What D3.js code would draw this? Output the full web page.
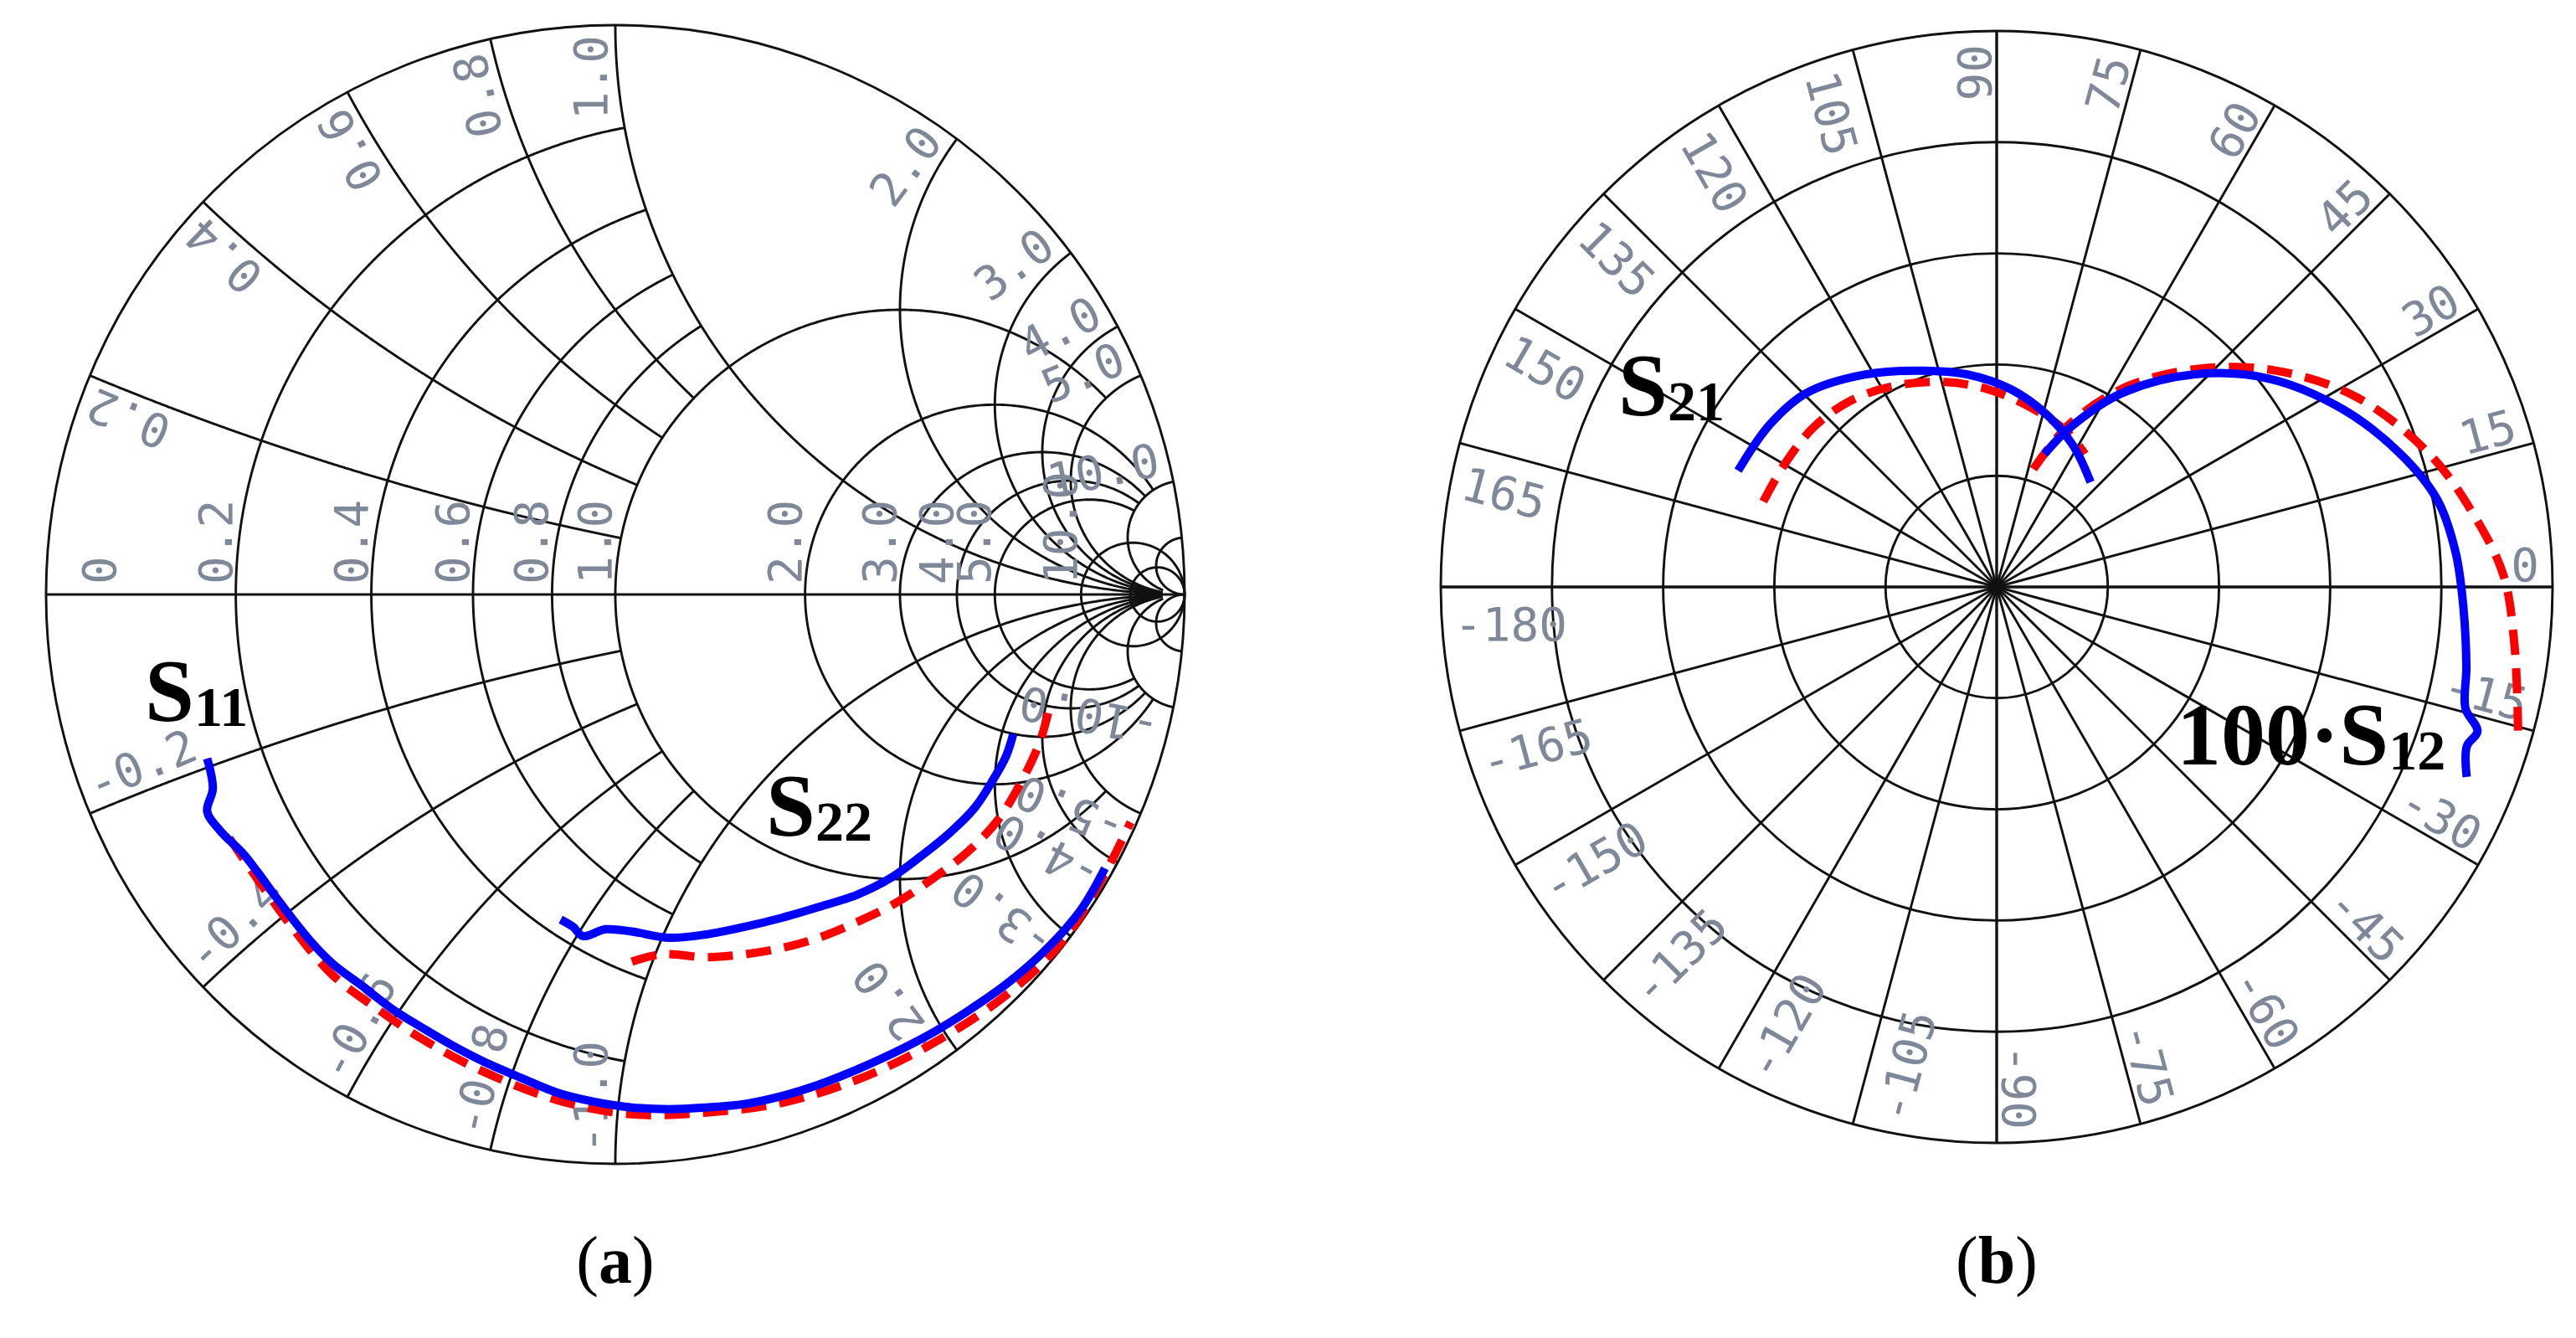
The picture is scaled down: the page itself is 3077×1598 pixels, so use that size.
<!DOCTYPE html>
<html>
<head>
<meta charset="utf-8">
<script src="https://cdn.jsdelivr.net/npm/d3@7"></script>
<style>
  body { margin: 0; background: #fff; }
  svg { display: block; }
  .lab { font-family: "DejaVu Sans Mono", monospace; font-size: 56px; fill: #7f8899; }
  .big { font-family: "Liberation Serif", "Times New Roman", serif; font-weight: bold; fill: #000; }
  .cap { font-family: "Liberation Serif", "Times New Roman", serif; fill: #000; }
</style>
</head>
<body>
<svg id="fig" width="3077" height="1598"></svg>
<script>
// ---- smith chart grid (a) ----
const resValues = [0.2, 0.4, 0.6, 0.8, 1, 2, 3, 4, 5, 10, 20];
const resMaxX = [1, 1, 1, 1, 5, 10, 10, 10, 10, Infinity, Infinity];
const reaValues = [0.2, 0.4, 0.6, 0.8, 1, 2, 3, 4, 5, 10, 20];
const reaMaxR = [1, 1, 1, 1, 50, 50, 50, 50, 50, 50, Infinity];
const resLabelValues = [0, 0.2, 0.4, 0.6, 0.8, 1, 2, 3, 4, 5, 10];
const resLabels = ["0", "0.2", "0.4", "0.6", "0.8", "1.0", "2.0", "3.0", "4.0", "5.0", "10.0"];
const reaLabelValues = [0.2, 0.4, 0.6, 0.8, 1, 2, 3, 4, 5, 10];
const reaLabels = ["0.2", "0.4", "0.6", "0.8", "1.0", "2.0", "3.0", "4.0", "5.0", "10.0"];

// reflection coefficients [re, im]
const s11Solid = [[-0.717,-0.288],[-0.707,-0.341],[-0.717,-0.381],[-0.694,-0.415],[-0.654,-0.455],[-0.628,-0.488],
  [-0.589,-0.541],[-0.536,-0.608],[-0.497,-0.648],[-0.444,-0.688],[-0.392,-0.728],[-0.339,-0.761],[-0.286,-0.792],
  [-0.234,-0.819],[-0.168,-0.848],[-0.102,-0.875],[-0.037,-0.891],[0.029,-0.901],[0.095,-0.904],[0.160,-0.901],
  [0.226,-0.895],[0.292,-0.881],[0.357,-0.861],[0.423,-0.835],[0.489,-0.805],[0.555,-0.771],[0.620,-0.731],
  [0.686,-0.685],[0.752,-0.628],[0.817,-0.555],[0.860,-0.481]];
const s11Dashed = [[-0.678,-0.428],[-0.628,-0.501],[-0.562,-0.592],[-0.497,-0.668],[-0.418,-0.728],[-0.339,-0.781],
  [-0.234,-0.837],[-0.102,-0.888],[0.029,-0.913],[0.160,-0.910],[0.292,-0.893],[0.423,-0.853],[0.555,-0.790],
  [0.686,-0.704],[0.785,-0.610],[0.858,-0.494],[0.905,-0.400]];
const s22Solid = [[-0.096,-0.571],[-0.074,-0.584],[-0.057,-0.600],[-0.017,-0.588],[0.029,-0.592],[0.095,-0.603],
  [0.160,-0.597],[0.226,-0.584],[0.292,-0.568],[0.357,-0.549],[0.423,-0.528],[0.482,-0.499],[0.535,-0.461],
  [0.587,-0.419],[0.631,-0.375],[0.662,-0.328],[0.686,-0.285],[0.699,-0.245]];
const s22Dashed = [[0.029,-0.645],[0.081,-0.632],[0.160,-0.637],[0.226,-0.632],[0.292,-0.621],[0.357,-0.603],
  [0.423,-0.576],[0.489,-0.544],[0.555,-0.501],[0.620,-0.451],[0.673,-0.395],[0.712,-0.331],[0.745,-0.261],[0.762,-0.201]];

// ---- polar chart (b) ----
const ringValues = [0.2, 0.4, 0.6, 0.8, 1.0];
const spokeAngles = d3.range(0, 360, 15);
const angleLabels = [0,15,30,45,60,75,90,105,120,135,150,165,-180,-165,-150,-135,-120,-105,-90,-75,-60,-45,-30,-15];
// [magnitude (fraction of outer ring), angle in degrees]
const s21Solid = [[0.510,155.8],[0.502,144.6],[0.489,134.6],[0.450,121.9],[0.411,108.8],[0.386,97.9],
  [0.356,85.7],[0.321,73.2],[0.288,61.2],[0.253,48.1]];
const s21Dashed = [[0.447,159.9],[0.441,150.4],[0.437,139.1],[0.426,128.3],[0.406,117.1],[0.380,104.1],
  [0.355,92.1],[0.327,78.4],[0.307,65.9],[0.287,56.4]];
const s12Solid = [[0.254,70.2],[0.315,65.3],[0.414,57.2],[0.523,47.0],[0.616,37.5],[0.699,27.3],[0.765,18.2],
  [0.808,11.2],[0.828,4.3],[0.840,-2.3],[0.857,-9.6],[0.871,-14.5],[0.903,-16.7],[0.893,-18.7],[0.912,-22.0]];
const s12Dashed = [[0.222,72.7],[0.322,65.8],[0.433,56.7],[0.540,46.7],[0.635,37.8],[0.732,27.8],[0.815,17.0],
  [0.868,8.6],[0.912,1.3],[0.937,-6.3],[0.973,-15.4]];

const svg = d3.select("#fig");
const gridStroke = "#111", gridW = 2.9;

// ================= Smith chart =================
const sc = {cx: 735, cy: 710, R: 680};
const sx = d3.scaleLinear().domain([-1, 1]).range([sc.cx - sc.R, sc.cx + sc.R]);
const sy = d3.scaleLinear().domain([-1, 1]).range([sc.cy + sc.R, sc.cy - sc.R]);
const gamma = (r, x) => { const d = (r + 1) * (r + 1) + x * x; return [(r * r + x * x - 1) / d, 2 * x / d]; };
const sline = d3.line().x(d => sx(d[0])).y(d => sy(d[1]));

const gS = svg.append("g");
const N = 700;
resValues.forEach((r, i) => {
  const a = Math.atan(resMaxX[i]);
  const pts = d3.range(N + 1).map(k => gamma(r, Math.tan(-a + 2 * a * k / N)));
  gS.append("path").attr("d", sline(pts)).attr("fill", "none").attr("stroke", gridStroke).attr("stroke-width", gridW);
});
reaValues.forEach((x, i) => {
  const a = Math.atan(reaMaxR[i]);
  [x, -x].forEach(xx => {
    const pts = d3.range(N + 1).map(k => gamma(Math.tan(a * k / N), xx));
    gS.append("path").attr("d", sline(pts)).attr("fill", "none").attr("stroke", gridStroke).attr("stroke-width", gridW);
  });
});
gS.append("line").attr("x1", sx(-1)).attr("x2", sx(1)).attr("y1", sy(0)).attr("y2", sy(0))
  .attr("stroke", gridStroke).attr("stroke-width", gridW);
gS.append("circle").attr("cx", sx(0)).attr("cy", sy(0)).attr("r", sx(1) - sx(0))
  .attr("fill", "none").attr("stroke", gridStroke).attr("stroke-width", gridW);

// resistance labels along the real axis
resLabelValues.forEach((r, i) => {
  const cross = r === 0 ? sx(-1) + 83 : sx((r - 1) / (r + 1)) - 5;
  gS.append("text").attr("class", "lab")
    .attr("transform", `translate(${cross},${sc.cy - 12}) rotate(-90)`)
    .text(resLabels[i]);
});
// reactance labels at the rim
reaLabelValues.forEach((x, i) => {
  [1, -1].forEach(sg => {
    const g = gamma(0, sg * x);
    const P = [sx(g[0]), sy(g[1])];
    if (sg > 0) {
      const u = [g[0], -g[1]];                 // outward, text reads toward the rim
      const ang = Math.atan2(u[1], u[0]) * 180 / Math.PI;
      const gu = [u[1], -u[0]];
      const pos = [P[0] - 12 * u[0] + 10 * gu[0], P[1] - 12 * u[1] + 10 * gu[1]];
      gS.append("text").attr("class", "lab").attr("text-anchor", "end")
        .attr("transform", `translate(${pos[0]},${pos[1]}) rotate(${ang})`).text(reaLabels[i]);
    } else {
      const u = [-g[0], g[1]];                 // inward, text reads away from the rim
      const ang = Math.atan2(u[1], u[0]) * 180 / Math.PI;
      const gu = [u[1], -u[0]];
      const pos = [P[0] + 12 * u[0] + 10 * gu[0], P[1] + 12 * u[1] + 10 * gu[1]];
      gS.append("text").attr("class", "lab").attr("text-anchor", "start")
        .attr("transform", `translate(${pos[0]},${pos[1]}) rotate(${ang})`).text("-" + reaLabels[i]);
    }
  });
});

const curve = d3.curveCatmullRom.alpha(0.5);
const sCurve = d3.line().x(d => sx(d[0])).y(d => sy(d[1])).curve(curve);
function trace(g, gen, data, color, dashed) {
  g.append("path").attr("d", gen(data)).attr("fill", "none").attr("stroke", color)
    .attr("stroke-width", 10).attr("stroke-linejoin", "round")
    .attr("stroke-dasharray", dashed ? "30,16" : null);
}
trace(gS, sCurve, s11Dashed, "#ff0000", true);
trace(gS, sCurve, s22Dashed, "#ff0000", true);
trace(gS, sCurve, s11Solid, "#0000ff", false);
trace(gS, sCurve, s22Solid, "#0000ff", false);

function bigLabel(x, y, main, sub) {
  const t = svg.append("text").attr("class", "big").attr("x", x).attr("y", y).attr("font-size", 106);
  t.append("tspan").text(main);
  t.append("tspan").attr("font-size", 68).attr("dy", 6).text(sub);
}
bigLabel(173, 861, "S", "11");
bigLabel(915, 998, "S", "22");

// ================= polar chart =================
const pc = {cx: 2385, cy: 701, R: 664};
const rs = d3.scaleLinear().domain([0, 1]).range([0, pc.R]);
const toRad = a => (90 - a) * Math.PI / 180;   // math degrees -> d3 radial angle
const gP = svg.append("g").attr("transform", `translate(${pc.cx},${pc.cy})`);
ringValues.forEach(v => {
  gP.append("circle").attr("r", rs(v)).attr("fill", "none").attr("stroke", gridStroke).attr("stroke-width", gridW);
});
gP.append("circle").attr("r", 5).attr("fill", "none").attr("stroke", gridStroke).attr("stroke-width", 2.5);
spokeAngles.forEach(a => {
  const t = a * Math.PI / 180;
  gP.append("line").attr("x1", 0).attr("y1", 0)
    .attr("x2", rs(1) * Math.cos(t)).attr("y2", -rs(1) * Math.sin(t))
    .attr("stroke", gridStroke).attr("stroke-width", (a % 90 === 0) ? 3.4 : gridW);
});
angleLabels.forEach(a => {
  const t = a * Math.PI / 180;
  const u = [Math.cos(t), -Math.sin(t)];
  const base = [(pc.R - 16) * u[0], (pc.R - 16) * u[1]];
  if (a >= -90 && a <= 90) {
    const gu = [u[1], -u[0]];
    gP.append("text").attr("class", "lab").attr("text-anchor", "end")
      .attr("transform", `translate(${base[0] + 7 * gu[0]},${base[1] + 7 * gu[1]}) rotate(${-a})`).text(a);
  } else {
    const gu = [-u[1], u[0]];
    gP.append("text").attr("class", "lab").attr("text-anchor", "start")
      .attr("transform", `translate(${base[0] - 64 * gu[0]},${base[1] - 64 * gu[1]}) rotate(${180 - a})`).text(a);
  }
});
const pCurve = d3.lineRadial().angle(d => toRad(d[1])).radius(d => rs(d[0])).curve(curve);
trace(gP, pCurve, s21Dashed, "#ff0000", true);
trace(gP, pCurve, s12Dashed, "#ff0000", true);
trace(gP, pCurve, s21Solid, "#0000ff", false);
trace(gP, pCurve, s12Solid, "#0000ff", false);

bigLabel(1933, 496, "S", "21");
bigLabel(2600, 913, "100·S", "12");

// captions
[["a", sc.cx], ["b", pc.cx]].forEach(([c, x]) => {
  const t = svg.append("text").attr("class", "cap").attr("x", x).attr("y", 1532)
    .attr("text-anchor", "middle").attr("font-size", 80);
  t.append("tspan").text("(");
  t.append("tspan").attr("font-weight", "bold").text(c);
  t.append("tspan").text(")");
});
</script>
</body>
</html>
